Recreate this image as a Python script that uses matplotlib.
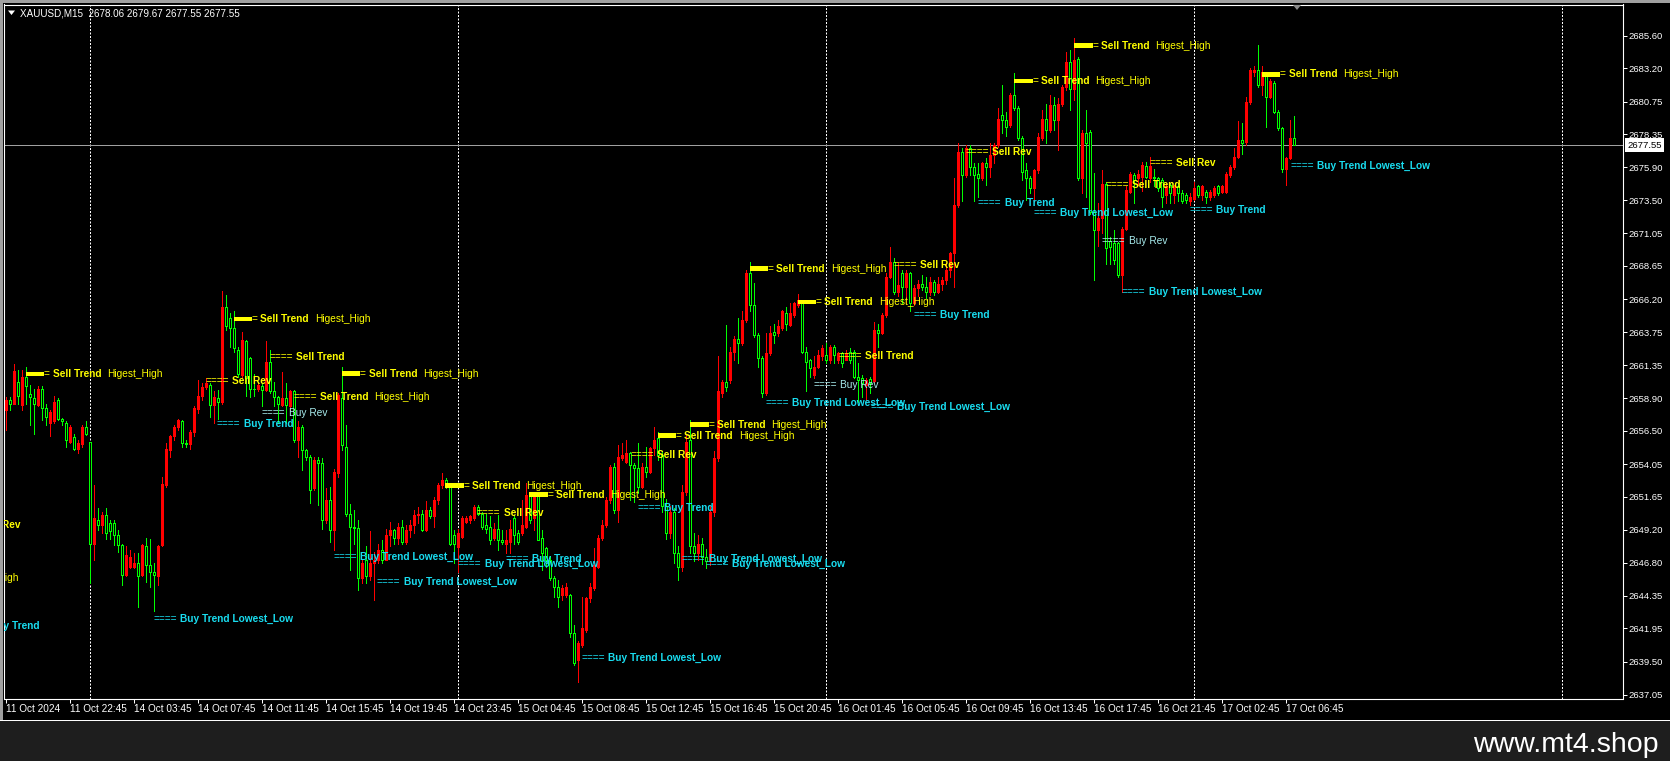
import matplotlib
matplotlib.use('Agg')
import matplotlib.pyplot as plt
from matplotlib.patches import Rectangle, Polygon
from matplotlib.collections import LineCollection, PatchCollection
from matplotlib.transforms import offset_copy, blended_transform_factory
import matplotlib.font_manager as fm

plt.rcParams['font.family'] = ['Liberation Sans', 'DejaVu Sans']

# ---------------- data (XAUUSD M15) ----------------
opens = [
 2658.0, 2658.8, 2658.5, 2660.1, 2658.4, 2660.5, 2659.2, 2658.9, 2658.4, 2659.6,
 2658.2, 2657.06, 2657.2, 2658.8, 2657.4, 2657.06, 2655.7, 2656.07, 2655.2, 2655.5,
 2656.8, 2655.7, 2648.2, 2649.9, 2649.6, 2650.3, 2649.7, 2649.7, 2648.8, 2648.1,
 2645.9, 2646.5, 2646.5, 2646.75, 2645.9, 2648.0, 2646.6, 2646.1, 2645.8, 2648.1,
 2652.5, 2655.1, 2656.1, 2656.8, 2657.2, 2655.6, 2655.5, 2656.4, 2658.1, 2659.1,
 2659.75, 2659.9, 2658.4, 2658.9, 2658.65, 2665.65, 2664.8, 2664.05, 2662.45, 2660.6,
 2663.1, 2661.85, 2659.6, 2659.6, 2659.8, 2659.5, 2661.6, 2659.4, 2659.0, 2658.4,
 2658.9, 2658.3, 2659.4, 2655.8, 2656.8, 2655.1, 2654.6, 2652.3, 2654.35, 2654.1,
 2649.9, 2651.4, 2649.2, 2653.4, 2658.9, 2655.3, 2650.4, 2649.45, 2649.35, 2645.65,
 2647.0, 2645.8, 2646.75, 2647.0, 2647.7, 2647.0, 2648.8, 2649.2, 2648.6, 2649.45,
 2648.35, 2649.2, 2649.6, 2650.3, 2650.4, 2649.2, 2650.7, 2650.2, 2651.4, 2652.5,
 2652.9, 2652.5, 2648.8, 2647.95, 2648.7, 2649.8, 2649.95, 2650.05, 2650.9, 2650.4,
 2649.55, 2649.45, 2648.6, 2649.3, 2648.45, 2648.2, 2648.35, 2650.05, 2648.95, 2648.95,
 2649.45, 2651.8, 2650.05, 2651.8, 2648.6, 2647.85, 2647.0, 2645.65, 2645.0, 2644.4,
 2644.4, 2644.4, 2641.6, 2639.6, 2640.75, 2641.85, 2644.2, 2644.9, 2646.5, 2648.6,
 2649.6, 2651.4, 2653.86, 2650.67, 2654.5, 2654.24, 2654.85, 2653.98, 2653.74, 2652.39,
 2653.86, 2653.5, 2655.21, 2655.95, 2654.7, 2651.0, 2649.0, 2650.5, 2647.5, 2646.5,
 2652.0, 2655.8, 2648.0, 2647.5, 2648.2, 2647.2, 2646.9, 2650.5, 2654.5, 2659.27,
 2660.1, 2660.25, 2662.3, 2663.3, 2662.95, 2664.65, 2668.1, 2665.8, 2663.55, 2661.85,
 2659.27, 2662.2, 2663.8, 2663.7, 2664.05, 2665.2, 2664.3, 2665.05, 2665.8, 2666.0,
 2662.3, 2661.7, 2660.6, 2661.2, 2662.0, 2662.1, 2661.7, 2662.7, 2661.7, 2662.2,
 2661.7, 2662.3, 2662.3, 2660.5, 2660.4, 2659.9, 2660.3, 2660.2, 2663.9, 2663.7,
 2665.05, 2667.85, 2668.95, 2666.75, 2668.1, 2667.1, 2668.1, 2665.9, 2667.0, 2667.35,
 2667.1, 2666.75, 2667.5, 2666.75, 2667.35, 2667.6, 2668.35, 2669.6, 2673.1, 2677.05,
 2675.35, 2677.3, 2675.95, 2675.45, 2675.1, 2676.2, 2675.95, 2676.8, 2677.55, 2679.75,
 2679.4, 2679.0, 2681.25, 2680.25, 2678.05, 2675.7, 2675.1, 2674.35, 2675.7, 2678.1,
 2679.5, 2678.65, 2680.5, 2679.4, 2680.6, 2681.85, 2683.7, 2681.7, 2683.9, 2675.1,
 2678.4, 2678.5, 2672.65, 2671.3, 2672.15, 2674.7, 2670.5, 2670.3, 2670.3, 2667.95,
 2671.4, 2674.1, 2675.35, 2675.1, 2675.2, 2676.0, 2675.1, 2675.2, 2675.1, 2675.0,
 2673.9, 2674.6, 2673.9, 2674.5, 2674.0, 2673.9, 2673.4, 2673.6, 2674.5, 2673.9,
 2674.1, 2673.75, 2673.9, 2674.5, 2674.1, 2674.1, 2675.35, 2675.95, 2676.7, 2677.9,
 2677.8, 2680.75, 2682.9, 2683.1, 2682.0, 2682.6, 2681.1, 2682.1, 2680.0, 2678.8,
 2675.8, 2676.6, 2678.06]

highs = [
 2659.0, 2659.0, 2661.4, 2661.0, 2661.0, 2661.2, 2659.9, 2659.6, 2659.8, 2659.8,
 2658.5, 2658.0, 2659.1, 2658.9, 2657.45, 2657.2, 2656.9, 2656.3, 2655.8, 2656.9,
 2657.2, 2655.7, 2652.5, 2650.8, 2650.55, 2650.8, 2649.9, 2649.9, 2649.2, 2648.2,
 2648.0, 2647.7, 2647.5, 2647.5, 2648.2, 2648.6, 2648.5, 2646.75, 2648.1, 2653.1,
 2655.6, 2656.2, 2656.9, 2657.4, 2657.3, 2655.8, 2656.6, 2658.3, 2660.25, 2660.0,
 2660.4, 2660.0, 2659.4, 2659.5, 2666.8, 2666.5, 2665.15, 2665.3, 2662.7, 2663.8,
 2663.2, 2661.95, 2660.7, 2660.0, 2660.0, 2663.1, 2662.45, 2660.1, 2659.1, 2660.86,
 2660.0, 2659.5, 2659.5, 2657.2, 2656.9, 2655.2, 2654.7, 2654.6, 2654.6, 2654.5,
 2652.3, 2652.4, 2653.7, 2659.3, 2661.2, 2656.9, 2651.15, 2650.7, 2649.95, 2647.0,
 2648.0, 2649.1, 2647.6, 2648.2, 2648.45, 2649.3, 2649.8, 2649.3, 2649.7, 2649.95,
 2649.6, 2649.95, 2650.7, 2650.9, 2650.7, 2651.3, 2650.9, 2651.65, 2652.65, 2653.4,
 2653.0, 2652.65, 2649.2, 2649.3, 2650.2, 2650.2, 2650.3, 2651.05, 2651.05, 2650.55,
 2650.4, 2650.2, 2649.7, 2650.3, 2649.2, 2649.2, 2649.95, 2650.3, 2649.2, 2651.4,
 2652.65, 2651.9, 2651.9, 2651.9, 2649.2, 2647.95, 2647.25, 2645.8, 2645.5, 2645.15,
 2645.3, 2644.5, 2642.2, 2641.0, 2644.3, 2644.3, 2645.3, 2647.85, 2648.8, 2649.95,
 2651.65, 2654.0, 2654.1, 2655.46, 2655.6, 2655.83, 2654.97, 2654.1, 2655.6, 2654.1,
 2655.34, 2655.34, 2656.8, 2656.44, 2655.0, 2651.5, 2651.0, 2650.8, 2648.0, 2652.5,
 2656.2, 2657.3, 2649.0, 2648.8, 2648.6, 2647.8, 2651.0, 2655.0, 2662.0, 2660.25,
 2664.3, 2662.7, 2663.45, 2664.8, 2665.3, 2668.35, 2668.95, 2667.4, 2663.7, 2662.0,
 2663.7, 2664.2, 2664.4, 2664.7, 2665.4, 2665.65, 2665.9, 2666.0, 2666.6, 2666.15,
 2662.7, 2661.8, 2662.0, 2662.45, 2662.8, 2663.0, 2662.8, 2662.8, 2662.3, 2662.3,
 2662.45, 2662.6, 2662.45, 2661.5, 2660.6, 2660.4, 2660.5, 2664.55, 2664.4, 2665.2,
 2668.1, 2670.05, 2669.2, 2668.85, 2668.35, 2668.35, 2668.2, 2667.25, 2667.6, 2668.0,
 2667.85, 2667.85, 2667.6, 2667.85, 2667.85, 2668.85, 2669.7, 2675.1, 2677.7, 2677.3,
 2677.55, 2677.55, 2676.2, 2676.2, 2676.3, 2676.6, 2677.7, 2677.7, 2680.25, 2681.95,
 2680.0, 2681.35, 2682.85, 2680.4, 2678.2, 2676.2, 2675.3, 2675.8, 2678.4, 2680.1,
 2680.6, 2681.2, 2681.1, 2681.0, 2682.0, 2684.4, 2684.55, 2685.4, 2684.05, 2678.65,
 2680.1, 2678.65, 2675.5, 2673.25, 2675.7, 2674.85, 2670.8, 2671.3, 2670.4, 2671.5,
 2674.5, 2675.6, 2675.5, 2675.7, 2676.3, 2676.3, 2676.7, 2675.8, 2675.2, 2675.1,
 2674.75, 2674.75, 2674.6, 2674.75, 2674.25, 2674.0, 2674.0, 2674.85, 2674.6, 2674.6,
 2674.25, 2674.25, 2674.5, 2674.6, 2674.6, 2675.6, 2676.1, 2677.3, 2679.3, 2679.15,
 2681.1, 2683.2, 2683.4, 2684.9, 2683.4, 2682.7, 2682.45, 2682.3, 2680.1, 2678.9,
 2676.7, 2679.4, 2679.67]

lows = [
 2656.6, 2658.0, 2658.5, 2658.5, 2658.0, 2658.5, 2656.9, 2656.3, 2658.3, 2657.3,
 2656.9, 2656.1, 2657.1, 2657.3, 2656.9, 2655.3, 2655.6, 2655.1, 2654.85, 2655.3,
 2656.2, 2645.3, 2647.0, 2649.2, 2648.95, 2648.5, 2648.5, 2648.1, 2647.6, 2645.15,
 2645.8, 2646.4, 2646.4, 2643.55, 2645.8, 2645.4, 2645.0, 2643.2, 2645.15, 2648.0,
 2652.4, 2654.6, 2655.8, 2656.6, 2655.3, 2655.3, 2655.2, 2656.1, 2657.8, 2658.8,
 2659.6, 2657.55, 2657.06, 2657.4, 2658.5, 2663.9, 2662.7, 2662.3, 2660.5, 2660.4,
 2659.1, 2659.0, 2659.1, 2659.4, 2658.3, 2659.4, 2659.3, 2658.3, 2657.06, 2658.3,
 2657.06, 2658.0, 2655.7, 2654.6, 2653.6, 2654.35, 2651.2, 2652.15, 2651.05, 2649.3,
 2649.7, 2648.3, 2647.7, 2653.1, 2655.1, 2650.2, 2646.25, 2648.2, 2644.8, 2645.3,
 2645.3, 2645.5, 2644.05, 2646.75, 2646.75, 2647.0, 2648.0, 2648.2, 2648.2, 2648.2,
 2648.2, 2648.7, 2648.95, 2649.7, 2649.1, 2649.1, 2650.05, 2649.45, 2651.15, 2652.3,
 2652.3, 2648.1, 2646.75, 2646.1, 2648.6, 2649.7, 2649.7, 2649.95, 2650.3, 2649.3,
 2648.95, 2648.2, 2648.45, 2647.7, 2648.2, 2647.5, 2647.5, 2648.2, 2648.2, 2648.85,
 2649.35, 2649.7, 2649.2, 2648.45, 2646.25, 2646.5, 2645.5, 2644.3, 2643.55, 2644.05,
 2644.3, 2641.35, 2639.25, 2638.0, 2640.6, 2641.7, 2643.9, 2644.8, 2646.4, 2648.45,
 2649.45, 2651.2, 2650.43, 2649.8, 2654.35, 2654.1, 2651.4, 2651.29, 2651.9, 2652.27,
 2653.13, 2653.37, 2654.72, 2654.35, 2650.5, 2648.5, 2648.6, 2646.8, 2645.5, 2646.2,
 2651.8, 2647.5, 2646.9, 2647.0, 2646.7, 2646.4, 2646.6, 2650.2, 2654.3, 2659.0,
 2659.4, 2660.0, 2661.7, 2661.5, 2662.8, 2664.5, 2665.3, 2663.4, 2661.2, 2659.0,
 2659.15, 2662.1, 2662.95, 2663.45, 2663.95, 2663.95, 2664.2, 2664.9, 2665.65, 2662.2,
 2659.4, 2660.5, 2660.4, 2661.1, 2661.7, 2661.5, 2661.5, 2661.5, 2661.5, 2661.2,
 2661.7, 2661.5, 2660.4, 2658.65, 2659.0, 2658.8, 2659.3, 2660.1, 2662.7, 2663.6,
 2664.9, 2667.75, 2666.6, 2666.4, 2665.9, 2665.9, 2665.3, 2665.8, 2666.4, 2666.9,
 2666.3, 2666.5, 2666.5, 2666.65, 2666.9, 2667.35, 2667.85, 2667.1, 2673.0, 2673.4,
 2675.2, 2675.35, 2673.4, 2673.75, 2675.0, 2674.6, 2675.2, 2676.2, 2677.4, 2678.4,
 2678.2, 2678.9, 2680.1, 2677.9, 2675.0, 2673.5, 2674.0, 2673.5, 2675.5, 2677.9,
 2677.7, 2678.5, 2678.65, 2677.2, 2680.4, 2681.6, 2680.1, 2680.9, 2675.0, 2674.0,
 2673.75, 2672.5, 2667.6, 2670.1, 2671.05, 2668.8, 2668.8, 2668.8, 2667.85, 2666.75,
 2671.3, 2674.0, 2673.25, 2674.6, 2674.2, 2675.1, 2674.85, 2674.5, 2674.2, 2673.0,
 2673.25, 2673.25, 2673.25, 2673.4, 2673.25, 2673.25, 2673.1, 2673.5, 2673.75, 2673.5,
 2673.25, 2673.5, 2673.75, 2673.9, 2674.0, 2674.0, 2675.2, 2675.8, 2676.6, 2676.9,
 2677.55, 2680.6, 2682.6, 2681.85, 2681.25, 2678.9, 2681.0, 2679.9, 2678.65, 2675.6,
 2674.6, 2676.5, 2677.55]

closes = [
 2658.8, 2658.5, 2660.9, 2659.1, 2660.5, 2659.8, 2659.0, 2658.5, 2659.6, 2658.2,
 2657.55, 2657.9, 2658.65, 2657.4, 2657.25, 2655.8, 2656.8, 2655.2, 2655.6, 2656.8,
 2656.3, 2648.2, 2650.06, 2649.6, 2650.3, 2648.96, 2649.1, 2648.8, 2648.1, 2645.9,
 2647.36, 2647.2, 2646.75, 2645.8, 2648.1, 2646.6, 2646.1, 2645.9, 2648.0, 2652.6,
 2655.2, 2656.1, 2656.8, 2657.3, 2655.6, 2655.5, 2656.45, 2658.2, 2659.1, 2659.75,
 2660.0, 2658.4, 2659.0, 2658.65, 2665.65, 2664.2, 2664.05, 2662.6, 2660.7, 2663.2,
 2660.4, 2659.6, 2659.55, 2659.9, 2659.5, 2661.6, 2659.4, 2659.0, 2658.5, 2658.9,
 2658.4, 2659.4, 2655.8, 2656.8, 2655.1, 2654.6, 2652.15, 2654.35, 2654.1, 2649.9,
 2651.4, 2649.2, 2653.5, 2659.15, 2655.45, 2650.4, 2649.45, 2649.35, 2645.65, 2646.75,
 2645.8, 2646.75, 2647.0, 2647.7, 2647.0, 2648.8, 2649.2, 2648.6, 2649.45, 2648.35,
 2649.2, 2649.6, 2650.3, 2650.4, 2649.2, 2650.7, 2650.2, 2651.4, 2652.5, 2652.9,
 2652.4, 2648.2, 2648.2, 2648.95, 2650.05, 2650.05, 2650.2, 2650.9, 2650.4, 2649.45,
 2649.3, 2648.45, 2649.3, 2648.45, 2648.35, 2648.45, 2649.3, 2648.8, 2648.35, 2649.6,
 2651.8, 2649.95, 2651.8, 2648.45, 2647.5, 2647.0, 2645.65, 2645.0, 2644.3, 2644.9,
 2645.0, 2641.6, 2639.4, 2640.85, 2641.95, 2644.2, 2645.0, 2646.6, 2648.6, 2649.6,
 2651.4, 2653.86, 2650.67, 2654.6, 2654.72, 2654.85, 2653.98, 2653.74, 2652.39, 2653.86,
 2653.5, 2655.21, 2655.83, 2654.72, 2651.0, 2649.0, 2650.5, 2647.5, 2646.5, 2652.0,
 2655.7, 2648.0, 2647.5, 2648.2, 2647.2, 2646.9, 2650.5, 2654.5, 2659.4, 2660.1,
 2659.75, 2662.3, 2663.3, 2662.95, 2664.65, 2668.1, 2665.8, 2663.55, 2661.85, 2659.27,
 2662.2, 2663.7, 2663.55, 2664.2, 2665.3, 2664.4, 2665.15, 2665.9, 2666.15, 2662.3,
 2661.6, 2661.1, 2661.2, 2662.1, 2662.6, 2661.7, 2662.7, 2662.1, 2662.2, 2661.5,
 2662.2, 2661.7, 2660.5, 2660.25, 2660.0, 2660.25, 2660.0, 2663.9, 2663.7, 2665.05,
 2667.85, 2668.95, 2666.75, 2667.25, 2667.1, 2668.1, 2665.9, 2667.0, 2667.35, 2667.1,
 2666.75, 2667.5, 2666.75, 2667.35, 2667.6, 2668.35, 2669.6, 2673.1, 2677.05, 2675.35,
 2677.3, 2675.95, 2675.35, 2675.1, 2676.2, 2675.95, 2676.8, 2677.55, 2679.5, 2679.4,
 2678.9, 2681.25, 2680.25, 2678.05, 2675.6, 2675.1, 2674.35, 2675.7, 2678.15, 2679.5,
 2678.65, 2680.5, 2679.4, 2680.6, 2681.85, 2683.7, 2681.7, 2683.8, 2675.1, 2678.4,
 2677.7, 2672.65, 2671.3, 2672.15, 2674.7, 2669.95, 2670.05, 2669.1, 2667.95, 2671.4,
 2674.25, 2675.45, 2675.0, 2675.45, 2676.1, 2675.2, 2676.0, 2675.1, 2674.35, 2673.75,
 2674.5, 2674.0, 2674.5, 2674.0, 2673.4, 2673.5, 2673.75, 2674.35, 2673.9, 2674.5,
 2673.75, 2674.1, 2674.35, 2674.0, 2674.5, 2675.45, 2675.95, 2676.7, 2677.9, 2677.7,
 2680.75, 2683.1, 2683.1, 2682.0, 2682.95, 2681.1, 2682.3, 2680.0, 2678.8, 2675.8,
 2676.6, 2678.05, 2677.55]

day_separators = [21, 113, 205, 297, 389]
current_price = 2677.55

ytick_values = [2685.60, 2683.20, 2680.75, 2678.35, 2675.90, 2673.50, 2671.05,
                2668.65, 2666.20, 2663.75, 2661.35, 2658.90, 2656.50, 2654.05,
                2651.65, 2649.20, 2646.80, 2644.35, 2641.95, 2639.50, 2637.05]
xtick_labels = ['11 Oct 2024', '11 Oct 22:45', '14 Oct 03:45', '14 Oct 07:45',
                '14 Oct 11:45', '14 Oct 15:45', '14 Oct 19:45', '14 Oct 23:45',
                '15 Oct 04:45', '15 Oct 08:45', '15 Oct 12:45', '15 Oct 16:45',
                '15 Oct 20:45', '16 Oct 01:45', '16 Oct 05:45', '16 Oct 09:45',
                '16 Oct 13:45', '16 Oct 17:45', '16 Oct 21:45', '17 Oct 02:45',
                '17 Oct 06:45']
xtick_bars = list(range(0, 16 * len(xtick_labels), 16))

# indicator signals: (kind, bar, price)
signals = [
 ('big', 5.1, 2660.69), ('big', 57.0, 2664.74), ('st', 66.0, 2661.92),
 ('sr', 49.9, 2660.17), ('st_hh', 71.9, 2659.02), ('br', 64.1, 2657.79),
 ('bt', 52.8, 2657.01), ('big', 84.1, 2660.71), ('btll', 82.0, 2647.19),
 ('btll', 92.8, 2645.39), ('btll', 37.0, 2642.65), ('big', 109.9, 2652.46),
 ('sr', 117.8, 2650.45), ('big', 130.9, 2651.80), ('btll', 113.1, 2646.70),
 ('bt', 124.9, 2647.04), ('btll', 143.9, 2639.75), ('sr', 156.15, 2654.72),
 ('bt', 157.9, 2650.82), ('big', 163.0, 2656.14), ('big', 171.15, 2656.95),
 ('btll', 169.05, 2647.08), ('btll', 174.9, 2646.70), ('big', 186.0, 2668.44),
 ('big', 198.0, 2665.99), ('sr', 222.0, 2668.71), ('bt', 227.0, 2665.03),
 ('st', 208.2, 2662.01), ('br', 202.0, 2659.86), ('btll', 189.9, 2658.53),
 ('btll', 216.15, 2658.28), ('sr', 240.0, 2677.06), ('bt', 243.1, 2673.26),
 ('big', 252.15, 2682.26), ('big', 267.15, 2684.86), ('btll', 256.95, 2672.54),
 ('st', 274.9, 2674.61), ('sr', 286.0, 2676.23), ('br', 274.1, 2670.48),
 ('btll', 279.1, 2666.70), ('bt', 296.0, 2672.76), ('big', 314.1, 2682.76),
 ('btll', 321.15, 2676.00),
 # signals from bars left of the visible window (only their tails show)
 ('sr', -12.9, 2649.57), ('big', -30.9, 2645.67), ('bt', -10.6, 2642.13),
]

# ---------------- figure ----------------
W, H = 1670, 761
fig = plt.figure(figsize=(W / 100, H / 100), dpi=100)
fig.patch.set_facecolor('black')

PL, PR, PT, PB = 3.5, 1622.5, 4.5, 698.5
ax = fig.add_axes([PL / W, 1 - PB / H, (PR - PL) / W, (PB - PT) / H])
ax.set_facecolor('black')
ax.set_xlim((PL - 5.5) / 4, (PR - 5.5) / 4)
ax.set_ylim(2636.79, 2687.90)
for s in ax.spines.values():
    s.set_color('white')
    s.set_linewidth(0.8)

RED = '#FF0000'
LIME = '#00FF00'
LW = 0.72

segs, wcols, rects, fcs, ecs = [], [], [], [], []
for i, (o, h, l, c) in enumerate(zip(opens, highs, lows, closes)):
    up = c >= o
    col = RED if up else LIME
    segs.append([(i, l), (i, h)])
    wcols.append(col)
    lo, hi = min(o, c), max(o, c)
    rects.append(Rectangle((i - 0.25, lo), 0.5, hi - lo))
    fcs.append(RED if up else 'black')
    ecs.append(col)

for sx in day_separators:
    ax.axvline(sx, color='white', lw=LW, linestyle=(0, (2.0, 1.5)), zorder=1)
ax.axhline(current_price, color='#A0A0A0', lw=LW, zorder=1.5)

ax.add_collection(LineCollection(segs, colors=wcols, linewidths=LW,
                                 antialiased=False, zorder=2))
ax.add_collection(PatchCollection(rects, facecolors=fcs, edgecolors=ecs,
                                  linewidths=LW, antialiased=False, zorder=3))

# ticks
ax.yaxis.tick_right()
ax.set_yticks(ytick_values)
ax.set_yticklabels([f'{v:.2f}' for v in ytick_values])
ax.tick_params(axis='y', colors='white', labelsize=6.8, length=3, width=LW,
               pad=1, direction='out')
ax.set_xticks(xtick_bars)
ax.set_xticklabels(xtick_labels, ha='left')
ax.tick_params(axis='x', colors='white', labelsize=7.2, length=3, width=LW,
               pad=1, direction='out')

# current price box
tr = blended_transform_factory(fig.transFigure, ax.transData)
ax.text(1627 / W, current_price, f'{current_price:.2f}', transform=tr,
        ha='left', va='center', fontsize=6.8, color='black', clip_on=False,
        zorder=20, bbox=dict(boxstyle='square,pad=0.22', fc='white', ec='white', lw=0))

# signal labels
YEL = '#FFFF00'
CYA = '#19DDF0'
PCY = '#A8ECEE'
FS = 7.3
fig.canvas.draw()
p0 = ax.transData.transform((0, 2660.0))
p1 = ax.transData.transform((1, 2661.0))
px_per_bar = p1[0] - p0[0]
px_per_unit = p1[1] - p0[1]


def put(x, y, s, color, dx=0.0, weight='normal'):
    t = offset_copy(ax.transData, fig=fig, x=dx, y=0, units='dots')
    ax.text(x, y, s, transform=t, color=color, fontsize=FS, fontweight=weight,
            ha='left', va='center', clip_on=True, zorder=8)


TXT = 27.0
for kind, bx, py in signals:
    if kind == 'big':
        ax.add_patch(Rectangle((bx, py - 2.3 / px_per_unit), 18.5 / px_per_bar,
                               4.6 / px_per_unit, fc=YEL, ec='none', zorder=8,
                               clip_on=True))
        put(bx, py, '=', YEL, dx=18.0)
        put(bx, py, 'Sell Trend', YEL, dx=TXT, weight='bold')
        put(bx, py, 'Higest_High', YEL, dx=TXT + 54.5)
    elif kind in ('st', 'st_hh'):
        put(bx, py, '====', YEL)
        put(bx, py, 'Sell Trend', YEL, dx=TXT, weight='bold')
        if kind == 'st_hh':
            put(bx, py, 'Higest_High', YEL, dx=TXT + 54.5)
    elif kind == 'sr':
        put(bx, py, '====', YEL)
        put(bx, py, 'Sell Rev', YEL, dx=TXT, weight='bold')
    elif kind == 'bt':
        put(bx, py, '====', CYA)
        put(bx, py, 'Buy Trend', CYA, dx=TXT, weight='bold')
    elif kind == 'btll':
        put(bx, py, '====', CYA)
        put(bx, py, 'Buy Trend Lowest_Low', CYA, dx=TXT, weight='bold')
    elif kind == 'br':
        put(bx, py, '====', PCY)
        put(bx, py, 'Buy Rev', PCY, dx=TXT)

# header
fig.text(20 / W, 1 - 13 / H, 'XAUUSD,M15  2678.06 2679.67 2677.55 2677.55',
         color='white', fontsize=7.1, ha='left', va='center')
fig.add_artist(Polygon([[8 / W, 1 - 10.5 / H], [15 / W, 1 - 10.5 / H],
                        [11.5 / W, 1 - 15 / H]], closed=True,
                       transform=fig.transFigure, fc='white', ec='none'))
# chart-shift marker
fig.add_artist(Polygon([[1293 / W, 1 - 5 / H], [1301 / W, 1 - 5 / H],
                        [1297 / W, 1 - 10 / H]], closed=True,
                       transform=fig.transFigure, fc='#8C8C8C', ec='none'))

# window frame bits
fig.add_artist(Rectangle((0, 1 - 3 / H), 1, 3 / H, transform=fig.transFigure,
                         fc='#A0A0A0', ec='none'))
fig.add_artist(Rectangle((0, 41 / H), 2.5 / W, 1 - 44 / H, transform=fig.transFigure,
                         fc='#A0A0A0', ec='none'))
fig.add_artist(Rectangle((0, 40 / H), 1, 1.2 / H, transform=fig.transFigure,
                         fc='white', ec='none'))
fig.add_artist(Rectangle((0, 0), 1, 40 / H, transform=fig.transFigure,
                         fc='#1E1E1E', ec='none'))

try:
    fm.findfont('Liberation Sans Narrow', fallback_to_default=False)
    wm_family, wm_size = 'Liberation Sans Narrow', 24.5
except Exception:
    wm_family, wm_size = 'Liberation Sans', 20.5
fig.text(1659 / W, 1 - 745 / H, 'www.mt4.shop', ha='right', va='center',
         color='white', fontsize=wm_size, family=wm_family)

fig.savefig('out.png', dpi=100, facecolor='black')
